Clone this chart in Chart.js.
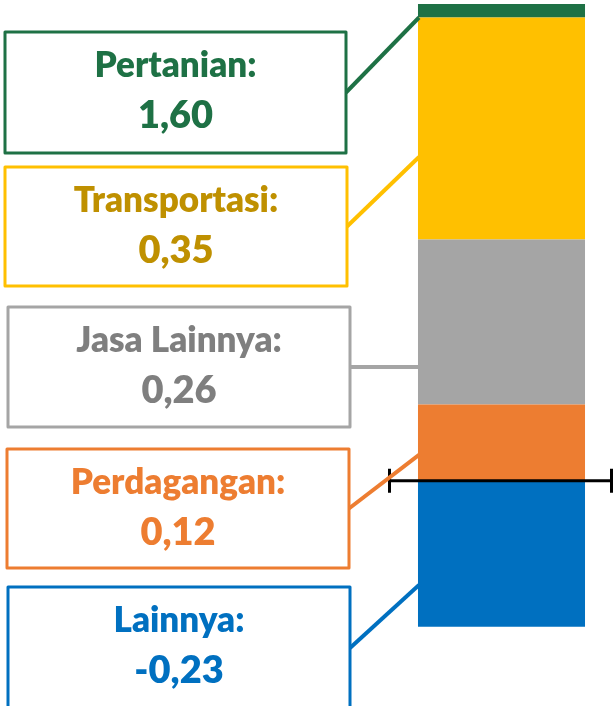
<!DOCTYPE html>
<html>
<head>
<meta charset="utf-8">
<script src="https://cdn.jsdelivr.net/npm/chart.js@4"></script>
<style>
  html, body { margin: 0; padding: 0; background: #ffffff; }
  canvas { display: block; }
</style>
</head>
<body>
<canvas id="c" width="613" height="706"></canvas>
<script>
// ---- data ----
const categories = ["Kontribusi"];
const seriesNames = ["Lainnya", "Perdagangan", "Jasa Lainnya", "Transportasi", "Pertanian"];
const seriesValues = [-0.23, 0.12, 0.26, 0.35, 1.60];
const axisMin = -0.355;
const axisMax = 0.7513;

// ---- styles ----
const fillColors = ["#0070C0", "#ED7D31", "#A5A5A5", "#FFC000", "#1E7145"];
const textColors = ["#0070C0", "#ED7D31", "#7F7F7F", "#BF9000", "#1E7145"];
// label box layout (per series, same order as seriesNames)
const boxLayout = [
  { left: 8, right: 350, top: 587, height: 122 },
  { left: 7, right: 349, top: 449, height: 119 },
  { left: 8, right: 350, top: 307, height: 120 },
  { left: 5, right: 347, top: 167, height: 119 },
  { left: 5, right: 346, top: 32,  height: 121 }
];
// leader anchor on bar segment, as fraction of segment measured from the zero side
const leaderFrac = [0.715, 0.34, 0.228, 0.372, 0.0];

function fmt(v) { return v.toFixed(2).replace('.', ','); }

const calloutPlugin = {
  id: 'callouts',
  afterDatasetsDraw(chart) {
    const ctx = chart.ctx;
    const xs = chart.scales.x, ys = chart.scales.y;
    const y0 = ys.getPixelForValue(0);
    // zero axis line with end caps
    ctx.save();
    ctx.strokeStyle = "#000000";
    ctx.lineWidth = 3;
    ctx.beginPath();
    ctx.moveTo(xs.left - 2, y0); ctx.lineTo(xs.right - 1, y0);
    ctx.stroke();
    ctx.beginPath();
    ctx.moveTo(xs.left - 0.5, y0 - 12); ctx.lineTo(xs.left - 0.5, y0 + 12);
    ctx.moveTo(xs.right - 1.5, y0 - 12); ctx.lineTo(xs.right - 1.5, y0 + 12);
    ctx.stroke();
    ctx.restore();

    // callout boxes
    let posBase = 0, negBase = 0;
    seriesValues.forEach((v, i) => {
      let start, end;
      if (v >= 0) { start = posBase; end = posBase + v; posBase = end; }
      else { start = negBase; end = negBase + v; negBase = end; }
      const meta = chart.getDatasetMeta(i);
      const bar = meta.data[0];
      const barLeft = bar.x - bar.width / 2;
      const anchorVal = start + (end - start) * leaderFrac[i];
      const ay = ys.getPixelForValue(anchorVal);
      const b = boxLayout[i];
      const by = b.top + b.height / 2;

      ctx.save();
      // leader line
      ctx.strokeStyle = fillColors[i];
      ctx.lineWidth = 4;
      ctx.beginPath();
      ctx.moveTo(b.right, by);
      ctx.lineTo(barLeft + 1, ay);
      ctx.stroke();
      // box
      ctx.fillStyle = "#ffffff";
      ctx.fillRect(b.left, b.top, b.right - b.left, b.height);
      ctx.lineWidth = 3;
      ctx.lineJoin = "round";
      ctx.strokeRect(b.left, b.top, b.right - b.left, b.height);
      // text
      const cx = (b.left + b.right) / 2;
      ctx.fillStyle = textColors[i];
      ctx.textAlign = "center";
      ctx.textBaseline = "alphabetic";
      ctx.font = "800 35px Lato, 'Open Sans', sans-serif";
      ctx.fillText(seriesNames[i] + ":", cx, b.top + 45);
      ctx.font = "800 38px Lato, 'Open Sans', sans-serif";
      ctx.fillText(fmt(v), cx, b.top + 96);
      ctx.restore();
    });
  }
};

const datasets = seriesNames.map((name, i) => ({
  label: name,
  data: [seriesValues[i]],
  backgroundColor: fillColors[i],
  borderWidth: 0,
  categoryPercentage: 1.0,
  barPercentage: 0.749
}));

new Chart(document.getElementById('c'), {
  type: 'bar',
  data: { labels: categories, datasets: datasets },
  options: {
    responsive: false,
    devicePixelRatio: 1,
    animation: false,
    layout: { padding: { left: 390, right: 0, top: 4, bottom: 0 } },
    plugins: { legend: { display: false }, tooltip: { enabled: false } },
    scales: {
      x: { stacked: true, display: false },
      y: { stacked: true, display: false, min: axisMin, max: axisMax }
    }
  },
  plugins: [calloutPlugin]
});
</script>
</body>
</html>
